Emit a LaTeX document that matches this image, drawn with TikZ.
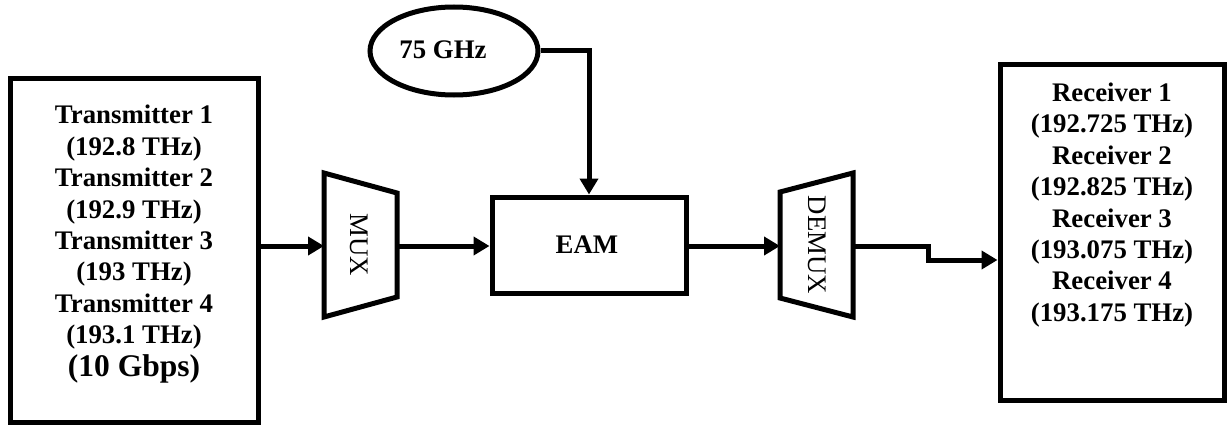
\documentclass[tikz,border=0pt]{standalone}
\usepackage{fontspec}
\setmainfont{Liberation Serif}
\usetikzlibrary{arrows.meta,shapes.geometric}

\tikzset{
  thick line/.style={line width=5pt},
  flow/.style={thick line,-{Triangle[length=16pt,width=18pt]}},
  blocklabel/.style={font=\bfseries\fontsize{26.8}{31.4}\selectfont,align=center,inner sep=0pt},
  muxlabel/.style={font=\fontsize{26.8}{31.4}\selectfont,inner sep=0pt,rotate=-90},
  boxnode/.style={draw,thick line,rectangle,inner sep=0pt}
}

\begin{document}
\begin{tikzpicture}[x=1pt,y=-1pt]
\useasboundingbox (0,0) rectangle (1228,428);

% transmitter bank
\node[boxnode,minimum width=248pt,minimum height=344pt] (tx) at (134,250) {};
\node[blocklabel] (txtext) at (134,244)
  {Transmitter 1\\(192.8 THz)\\Transmitter 2\\(192.9 THz)\\Transmitter 3\\(193 THz)\\Transmitter 4\\(193.1 THz)\\[1pt]{\fontsize{31.5}{34}\selectfont (10 Gbps)}};

% multiplexer
\coordinate (muxin) at (324,246);
\coordinate (muxout) at (397,246);
\draw[thick line,line join=miter] (324,173) -- (397,193) -- (397,297) -- (324,317) -- cycle;
\node[muxlabel] (muxtext) at (359,245) {MUX};

% modulator
\node[boxnode,minimum width=194pt,minimum height=96pt] (eam) at (589,245) {};
\node[blocklabel] (eamtext) at (587,245) {EAM};

% clock source
\node[draw,thick line,ellipse,minimum width=168pt,minimum height=88pt,inner sep=0pt] (clk) at (454,51) {};
\node[blocklabel] (clktext) at (443,50) {75 GHz};

% demultiplexer
\coordinate (demuxin) at (780,246);
\coordinate (demuxout) at (853,246);
\draw[thick line,line join=miter] (780,192) -- (853,173) -- (853,317) -- (780,298) -- cycle;
\node[muxlabel] (demuxtext) at (817,245) {DEMUX};

% receiver bank
\node[boxnode,minimum width=224pt,minimum height=335pt] (rx) at (1112,232.5) {};
\node[blocklabel] (rxtext) at (1112,205)
  {Receiver 1\\(192.725 THz)\\Receiver 2\\(192.825 THz)\\Receiver 3\\(193.075 THz)\\Receiver 4\\(193.175 THz)};

% signal path
\coordinate (bend) at (928,246);
\coordinate (rxin) at (rx.west |- 0,260);
\draw[flow] (tx.east |- muxin) -- (muxin);
\draw[flow] (muxout) -- (eam.west |- muxout);
\draw[flow] (eam.east |- demuxin) -- (demuxin);
\draw[flow] (demuxout) -- (bend) -- (bend |- rxin) -- (rxin);
\draw[flow] (clk.east) -- (eam.north |- clk.east) -- (eam.north);
\end{tikzpicture}
\end{document}
